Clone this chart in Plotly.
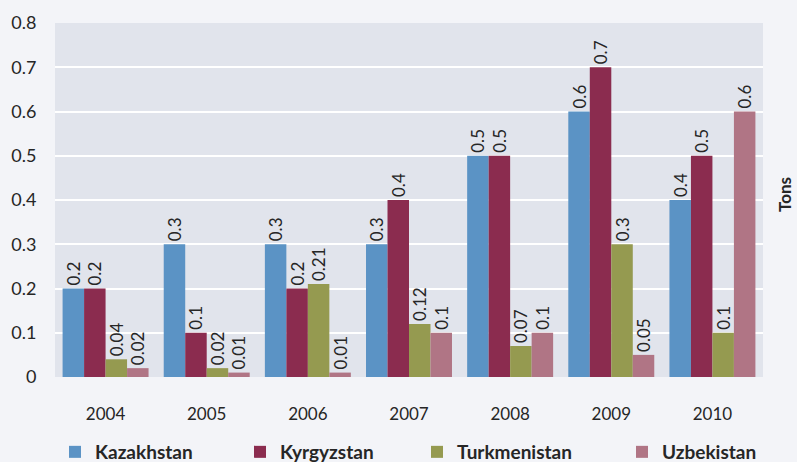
import plotly.graph_objects as go

years = ["2004", "2005", "2006", "2007", "2008", "2009", "2010"]
kazakhstan = [0.2, 0.3, 0.3, 0.3, 0.5, 0.6, 0.4]
kyrgyzstan = [0.2, 0.1, 0.2, 0.4, 0.5, 0.7, 0.5]
turkmenistan = [0.04, 0.02, 0.21, 0.12, 0.07, 0.3, 0.1]
uzbekistan = [0.02, 0.01, 0.01, 0.1, 0.1, 0.05, 0.6]
y_ticks = [0, 0.1, 0.2, 0.3, 0.4, 0.5, 0.6, 0.7, 0.8]

series = [
    ("Kazakhstan", kazakhstan, "#5B93C5"),
    ("Kyrgyzstan", kyrgyzstan, "#8B2C4F"),
    ("Turkmenistan", turkmenistan, "#959A50"),
    ("Uzbekistan", uzbekistan, "#B07585"),
]

FONT = "Lato, Open Sans, sans-serif"
W, H = 797, 462
ML, MR, MT, MB = 55, 34, 23, 85
PW, PH = W - ML - MR, H - MT - MB


def px_x(x):
    return (x - ML) / PW


def px_y(y):
    return (H - MB - y) / PH


# one legend per series so each entry sits at its own spot along the bottom
legend_x = [55, 240, 417, 622]
legend_names = ["legend", "legend2", "legend3", "legend4"]

fig = go.Figure()
for (name, vals, color), lg in zip(series, legend_names):
    fig.add_trace(go.Bar(
        x=years, y=vals, name=name,
        marker=dict(color=color, line=dict(width=0)),
        text=[f"{v:g}" for v in vals],
        textposition="outside",
        textangle=-90,
        cliponaxis=False,
        textfont=dict(family=FONT, size=17, color="#262626"),
        legend=lg,
    ))

legend_common = dict(
    orientation="h",
    yanchor="middle",
    font=dict(family=FONT, size=19, color="#262626", weight="bold"),
    bgcolor="rgba(0,0,0,0)",
    borderwidth=0,
)

layout_legends = {}
for lg, lx in zip(legend_names, legend_x):
    layout_legends[lg] = dict(legend_common, x=px_x(lx), xanchor="left", y=px_y(452))

fig.update_layout(
    width=W, height=H,
    margin=dict(l=ML, r=MR, t=MT, b=MB, autoexpand=False),
    paper_bgcolor="#F3F4F8",
    plot_bgcolor="#E1E4EC",
    barmode="group",
    bargap=0.15,
    bargroupgap=0,
    uniformtext=dict(minsize=17, mode="show"),
    font=dict(family=FONT, size=16, color="#262626"),
    showlegend=True,
    xaxis=dict(
        showgrid=False,
        ticks="outside", ticklen=22, tickcolor="rgba(0,0,0,0)",
        tickfont=dict(family=FONT, size=17, color="#262626"),
        showline=False, zeroline=False,
    ),
    yaxis=dict(
        range=[0, 0.8],
        tickvals=y_ticks,
        ticktext=[f"{v:g}" for v in y_ticks],
        showgrid=True, gridcolor="#FFFFFF", gridwidth=2,
        zeroline=False,
        ticks="outside", ticklen=14, tickcolor="rgba(0,0,0,0)",
        tickfont=dict(family=FONT, size=18, color="#262626"),
        showline=False,
    ),
    annotations=[dict(
        text="<b>Tons</b>", x=px_x(784), y=px_y(195),
        xref="paper", yref="paper",
        xanchor="center", yanchor="middle",
        showarrow=False, textangle=-90,
        font=dict(family=FONT, size=17, color="#262626"),
    )],
    **layout_legends,
)

fig.write_html("out.html")
